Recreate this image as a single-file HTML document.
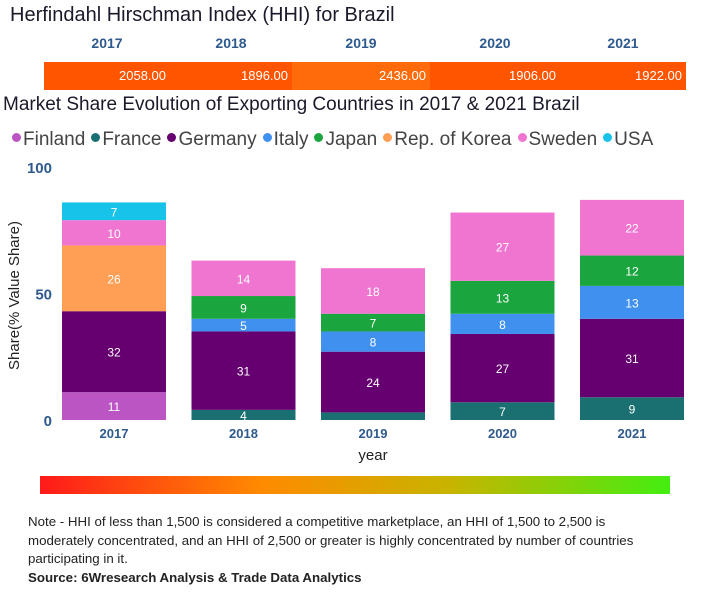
<!DOCTYPE html>
<html><head><meta charset="utf-8"><style>
body{margin:0;width:724px;height:600px;background:#fff;font-family:"Liberation Sans","DejaVu Sans",sans-serif;position:relative;overflow:hidden}
.a{position:absolute}
</style></head><body>
<div class="a" style="left:10px;top:4px;font-size:20px;color:#1a1a2a">Herfindahl Hirschman Index (HHI) for Brazil</div>
<div id="hhi"></div>
<div class="a" style="left:3px;top:94px;font-size:19px;color:#1a1a2a">Market Share Evolution of Exporting Countries in 2017 &amp; 2021 Brazil</div>
<div id="legend" class="a" style="left:12px;top:129px;font-size:19px;color:#444;white-space:nowrap"></div>
<svg id="chart" class="a" style="left:0;top:155px" width="724" height="310"></svg>
<div class="a" style="left:40px;top:476px;width:630px;height:18px;background:linear-gradient(to right,#ff1a1a,#ff8a00 35%,#c8b400 65%,#44ee11)"></div>
<div class="a" style="left:28px;top:513px;width:640px;font-size:13.3px;line-height:18.5px;color:#222">Note - HHI of less than 1,500 is considered a competitive marketplace, an HHI of 1,500 to 2,500 is moderately concentrated, and an HHI of 2,500 or greater is highly concentrated by number of countries participating in it.<br><b>Source: 6Wresearch Analysis &amp; Trade Data Analytics</b></div>
<script>
const years=["2017","2018","2019","2020","2021"];
const hhi=[2058,1896,2436,1906,1922];
const series=["Finland","France","Germany","Italy","Japan","Rep. of Korea","Sweden","USA"];
const colors=["#bb55c4","#1a7070","#660070","#4090f0","#1aa53f","#ff9e55","#f075d0","#18c3ea"];
const finland=[11,0,0,0,0];
const france=[0,4,3,7,9];
const germany=[32,31,24,27,31];
const italy=[0,5,8,8,13];
const japan=[0,9,7,13,12];
const korea=[26,0,0,0,0];
const sweden=[10,14,18,27,22];
const usa=[7,0,0,0,0];
const values=[finland,france,germany,italy,japan,korea,sweden,usa];
const yTicks=[0,50,100];

const hx=[44,170,292,430,560,686];
const hhiCols=["#ff5500","#ff5500","#ff6a0a","#ff5500","#ff5500"];
const strip=document.getElementById('hhi');
years.forEach((y,i)=>{
  const l=document.createElement('div');l.className='a';
  
  
  l.style.cssText=`left:${hx[i]}px;width:${hx[i+1]-hx[i]}px;top:35px;text-align:center;font-weight:bold;font-size:14px;color:#2e5a8e`;
  l.textContent=y;strip.appendChild(l);
  const c=document.createElement('div');c.className='a';
  
  
  c.style.cssText=`left:${hx[i]}px;width:${hx[i+1]-hx[i]}px;top:62px;height:28px;background:${hhiCols[i]};color:#fff;font-size:13px;line-height:28px;text-align:right;box-sizing:border-box;padding-right:4px`;
  c.textContent=hhi[i].toFixed(2);strip.appendChild(c);
});
const lg=document.getElementById('legend');
series.forEach((s,i)=>{
  const e=document.createElement('span');
  
  
  e.style.marginRight='6px';
  e.innerHTML=`<span style="display:inline-block;width:9px;height:9px;border-radius:50%;background:${colors[i]};margin-right:2px;vertical-align:3px"></span>${s}`;
  lg.appendChild(e);
});
const svg=document.getElementById('chart');const NS='http://www.w3.org/2000/svg';
const top0=155;
const y=v=>420-top0-v*2.53;
const bx=i=>62+i*129.5;const bw=104;
function mk(t,a){const e=document.createElementNS(NS,t);for(const k in a)e.setAttribute(k,a[k]);svg.appendChild(e);return e;}
yTicks.forEach(t=>{const e=mk('text',{x:52,y:y(t)+6,'text-anchor':'end','font-size':15,'font-weight':'bold',fill:'#2e5a8e'});e.textContent=t;

});
const yt=mk('text',{x:0,y:0,transform:`translate(19,${y(50)+2}) rotate(-90)`,'text-anchor':'middle','font-size':15,fill:'#222'});yt.textContent='Share(% Value Share)';


years.forEach((yr,i)=>{
  let acc=0;
  values.forEach((arr,s)=>{
    const v=arr[i];if(!v)return;
    const r=mk('rect',{x:bx(i),y:y(acc+v),width:bw,height:v*2.53,fill:colors[s]});
    
    
    if(v>=4){const t=mk('text',{x:bx(i)+bw/2,y:y(acc+v/2)+5,'text-anchor':'middle','font-size':12,fill:'#fff'});t.textContent=v;
    
    }
    acc+=v;
  });
  const t=mk('text',{x:bx(i)+bw/2,y:y(0)+18,'text-anchor':'middle','font-size':13,'font-weight':'bold',fill:'#2e5a8e'});t.textContent=yr;
  
  
});
const xt=mk('text',{x:373,y:y(0)+40,'text-anchor':'middle','font-size':15,fill:'#222'});xt.textContent='year';


</script>
</body></html>
